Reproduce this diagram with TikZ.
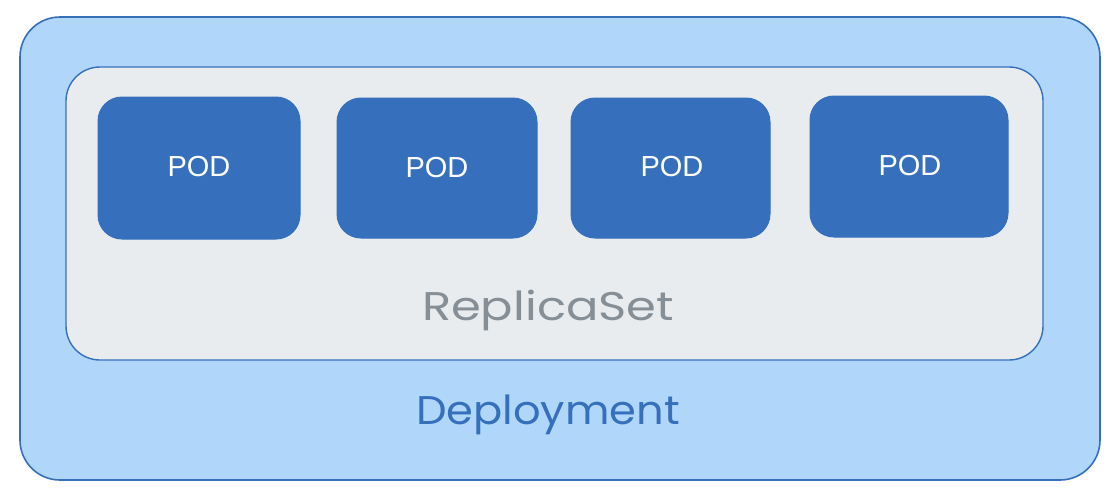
\documentclass[tikz,border=0pt]{standalone}
\usepackage{fontspec}
\setmainfont{Liberation Sans}
\newfontfamily\handfont{Poppins}
\definecolor{strokeblue}{HTML}{3670BD}
\definecolor{outerfill}{HTML}{B0D6FA}
\definecolor{innerfill}{HTML}{E8ECEF}
\definecolor{labelgray}{HTML}{868E96}
\tikzset{
  deploybox/.style={draw=strokeblue, fill=outerfill, line width=1.6pt, rounded corners=40pt},
  rsbox/.style={draw=strokeblue, fill=innerfill, line width=1.4pt, rounded corners=34pt},
  podbox/.style={fill=strokeblue, draw=strokeblue, line width=1pt, rounded corners=24pt},
  podlabel/.style={text=white, font=\fontsize{29}{32}\selectfont},
  biglabel/.style={font=\handfont\fontsize{40}{44}\selectfont},
}
\begin{document}
\begin{tikzpicture}[x=1pt,y=-1pt]
\useasboundingbox (0,0) rectangle (1112,498);
\fill[white] (0,0) rectangle (1112,498);
\draw[deploybox] (20,17) rectangle (1100,480);
\draw[rsbox] (66,67) rectangle (1043,360);
\draw[podbox] (98,97) rectangle (300,239);
\draw[podbox] (337,98) rectangle (537,238);
\draw[podbox] (571,98) rectangle (770,238);
\draw[podbox] (810,96) rectangle (1008,237);
\node[podlabel] (p1) at (199,167) {POD};
\node[podlabel] (p2) at (437,168) {POD};
\node[podlabel] (p3) at (672,167) {POD};
\node[podlabel] (p4) at (910,166) {POD};
\node[biglabel, text=labelgray, xscale=1.2] (rs) at (548,310) {ReplicaSet};
\node[biglabel, text=strokeblue, xscale=1.08] (dep) at (548,415) {Deployment};
\end{tikzpicture}
\end{document}
